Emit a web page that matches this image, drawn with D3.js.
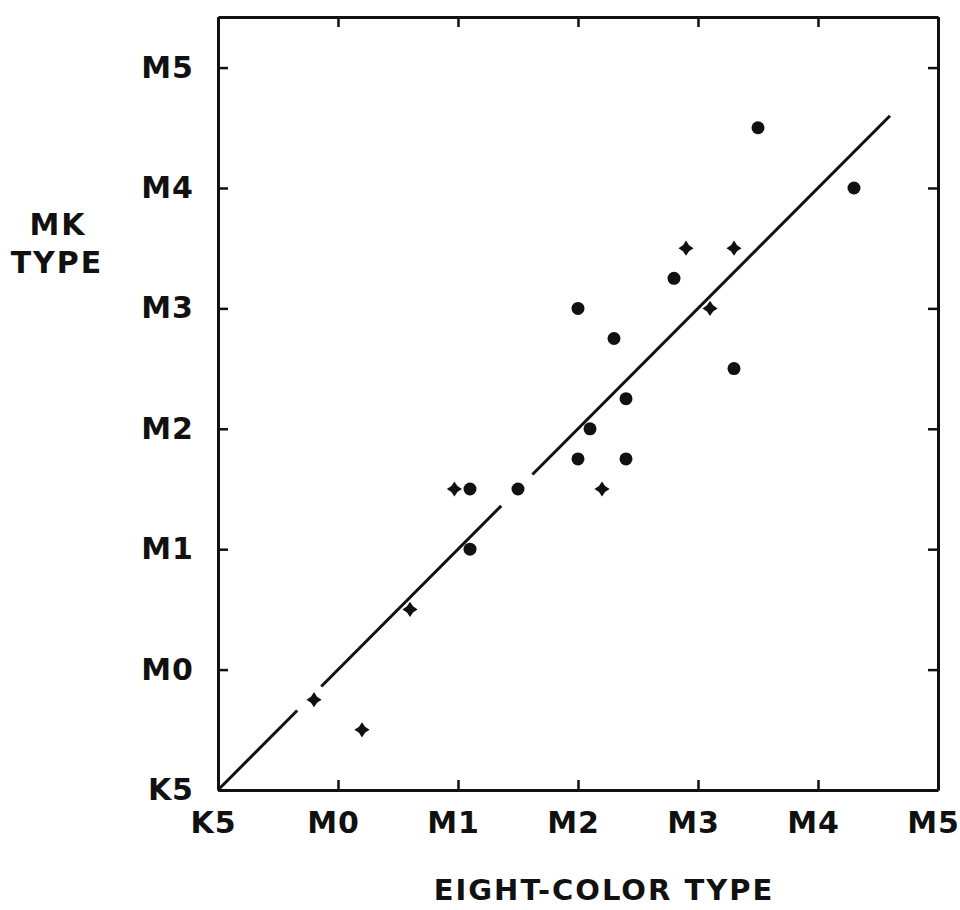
<!DOCTYPE html>
<html>
<head>
<meta charset="utf-8">
<script src="https://cdn.jsdelivr.net/npm/d3@7"></script>
<style>
  body { margin: 0; background: #fff; }
  text { font-family: "DejaVu Sans", sans-serif; font-weight: bold; fill: #111; }
</style>
</head>
<body>
<svg id="drawing_region"></svg>
<script>
// spectral types: K5 = 0, M0 = 1 ... M5 = 6
const tickValues = [0, 1, 2, 3, 4, 5, 6];
const tickLabels = ["K5", "M0", "M1", "M2", "M3", "M4", "M5"];

// filled circles
const circleX = [4.5, 5.3, 3.8, 3.0, 3.3, 4.3, 3.4, 3.1, 3.0, 3.4, 2.1, 2.5, 2.1];
const circleY = [5.5, 5.0, 4.25, 4.0, 3.75, 3.5, 3.25, 3.0, 2.75, 2.75, 2.5, 2.5, 2.0];

// four-pointed stars
const starX = [3.9, 4.3, 4.1, 3.2, 1.97, 1.6, 0.8, 1.2];
const starY = [4.5, 4.5, 4.0, 2.5, 2.5, 1.5, 0.75, 0.5];

// one-to-one line, drawn in pieces (broken near the symbols)
const lineFrom = [0, 0.86, 2.62];
const lineTo = [0.66, 2.36, 5.6];

const width = 960, height = 910;
const margin = { left: 218, right: 938, top: 17, bottom: 790 };

const svg = d3.select('#drawing_region')
    .attr('width', width)
    .attr('height', height);

const x = d3.scaleLinear().domain([0, 6]).range([margin.left, margin.right]);
const y = d3.scaleLinear().domain([0, 6.42]).range([margin.bottom, margin.top]);

const fmt = d => tickLabels[tickValues.indexOf(d)];

// bottom axis with labels
svg.append('g')
    .attr('class', 'axis')
    .attr('transform', `translate(0, ${margin.bottom})`)
    .call(d3.axisBottom(x).tickValues(tickValues).tickFormat(fmt)
        .tickSizeInner(-10).tickSizeOuter(0).tickPadding(22))
    .selectAll('text')
    .attr('dx', -5);

// left axis with labels
svg.append('g')
    .attr('class', 'axis')
    .attr('transform', `translate(${margin.left}, 0)`)
    .call(d3.axisLeft(y).tickValues(tickValues).tickFormat(fmt)
        .tickSizeInner(-10).tickSizeOuter(0).tickPadding(24));

// top and right: ticks only
svg.append('g')
    .attr('class', 'axis')
    .attr('transform', `translate(0, ${margin.top})`)
    .call(d3.axisTop(x).tickValues(tickValues).tickFormat('')
        .tickSizeInner(-10).tickSizeOuter(0));

svg.append('g')
    .attr('class', 'axis')
    .attr('transform', `translate(${margin.right}, 0)`)
    .call(d3.axisRight(y).tickValues(tickValues).tickFormat('')
        .tickSizeInner(-10).tickSizeOuter(0));

svg.selectAll('.axis path').attr('stroke', '#111').attr('stroke-width', 3);
svg.selectAll('.axis line').attr('stroke', '#111').attr('stroke-width', 2.5);
svg.selectAll('.axis text')
    .attr('font-size', 30)
    .attr('font-family', '"DejaVu Sans", sans-serif')
    .attr('font-weight', 'bold')
    .attr('letter-spacing', 1)
    .attr('fill', '#111');

// fit line
svg.selectAll('.fit')
    .data(d3.range(lineFrom.length))
    .enter()
    .append('line')
    .attr('x1', i => x(lineFrom[i]))
    .attr('y1', i => y(lineFrom[i]))
    .attr('x2', i => x(lineTo[i]))
    .attr('y2', i => y(lineTo[i]))
    .attr('stroke', '#111')
    .attr('stroke-width', 3);

// points
svg.selectAll('.dot')
    .data(d3.range(circleX.length))
    .enter()
    .append('circle')
    .attr('cx', i => x(circleX[i]))
    .attr('cy', i => y(circleY[i]))
    .attr('r', 6.5)
    .attr('fill', '#111');

const star4 = {
    draw(context, size) {
        const r = Math.sqrt(size) / 2, k = r * 0.4;
        context.moveTo(0, -r);
        context.lineTo(k, -k);
        context.lineTo(r, 0);
        context.lineTo(k, k);
        context.lineTo(0, r);
        context.lineTo(-k, k);
        context.lineTo(-r, 0);
        context.lineTo(-k, -k);
        context.closePath();
    }
};

svg.selectAll('.star')
    .data(d3.range(starX.length))
    .enter()
    .append('path')
    .attr('transform', i => `translate(${x(starX[i])}, ${y(starY[i])})`)
    .attr('d', d3.symbol().type(star4).size(230))
    .attr('fill', '#111');

// axis titles
svg.append('text')
    .attr('x', 604)
    .attr('y', 900)
    .attr('text-anchor', 'middle')
    .attr('font-size', 29)
    .attr('letter-spacing', 2)
    .text('EIGHT-COLOR TYPE');

svg.append('text')
    .attr('x', 58)
    .attr('y', 235)
    .attr('text-anchor', 'middle')
    .attr('font-size', 30)
    .attr('letter-spacing', 2)
    .text('MK');

svg.append('text')
    .attr('x', 57)
    .attr('y', 273)
    .attr('text-anchor', 'middle')
    .attr('font-size', 30)
    .attr('letter-spacing', 2)
    .text('TYPE');
</script>
</body>
</html>
